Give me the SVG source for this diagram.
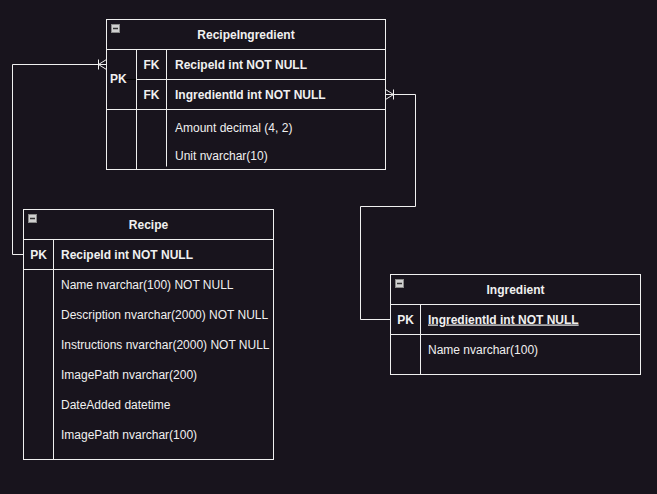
<svg xmlns="http://www.w3.org/2000/svg" width="657" height="494" viewBox="0 0 657 494">
<style>
  .box { fill: #18141d; stroke: #f0f0f0; stroke-width: 1; }
  .ln { stroke: #f0f0f0; stroke-width: 1; fill: none; }
  .t { font-family: "Liberation Sans", Arial, sans-serif; font-size: 12px; fill: #f0f0f0; }
  .b { font-weight: bold; }
  .c { text-anchor: middle; }
  .icon { fill: #d0d0d0; stroke: #8a8a8a; stroke-width: 1; }
  .minus { stroke: #333; stroke-width: 1.5; }
</style>
<defs>
  <g id="collapse">
    <rect class="icon" x="0.5" y="0.5" width="8" height="8"/>
    <line class="minus" x1="2" y1="4.5" x2="7" y2="4.5"/>
  </g>
</defs>
<rect x="0" y="0" width="657" height="494" fill="#18141d"/>

<g id="connectors">
  <polyline class="ln" points="23.5,254.5 12.5,254.5 12.5,64.5 106.5,64.5"/>
  <g class="ln">
    <line x1="98.5" y1="59.5" x2="98.5" y2="69.5"/>
    <line x1="98.5" y1="64.5" x2="106.5" y2="59.5"/>
    <line x1="98.5" y1="64.5" x2="106.5" y2="69.5"/>
  </g>
  <polyline class="ln" points="385.5,94.5 415.5,94.5 415.5,206.5 360.5,206.5 360.5,319.5 390.5,319.5"/>
  <g class="ln">
    <line x1="393.5" y1="89.5" x2="393.5" y2="99.5"/>
    <line x1="393.5" y1="94.5" x2="385.5" y2="89.5"/>
    <line x1="393.5" y1="94.5" x2="385.5" y2="99.5"/>
  </g>
</g>

<g id="RecipeIngredient">
  <rect class="box" x="106.5" y="19.5" width="279" height="150"/>
  <line class="ln" x1="106.5" y1="49.5" x2="385.5" y2="49.5"/>
  <line class="ln" x1="136.5" y1="79.5" x2="385.5" y2="79.5"/>
  <line x1="118" y1="79.5" x2="136.5" y2="79.5" stroke="#000" stroke-width="1"/>
  <line class="ln" x1="106.5" y1="109.5" x2="385.5" y2="109.5"/>
  <line class="ln" x1="136.5" y1="49.5" x2="136.5" y2="169.5"/>
  <line class="ln" x1="166.5" y1="49.5" x2="166.5" y2="166.5"/>
  <use href="#collapse" x="111" y="24"/>
  <text class="t b c" x="246" y="38.5">RecipeIngredient</text>
  <text class="t b" x="110" y="83">PK</text>
  <text class="t b c" x="151.5" y="68.5">FK</text>
  <text class="t b c" x="151.5" y="98.5">FK</text>
  <text class="t b" x="175" y="68.5">RecipeId int NOT NULL</text>
  <text class="t b" x="175" y="98.5">IngredientId int NOT NULL</text>
  <text class="t" x="175" y="131.5">Amount decimal (4, 2)</text>
  <text class="t" x="175" y="159.5">Unit nvarchar(10)</text>
</g>

<g id="Recipe">
  <rect class="box" x="23.5" y="209.5" width="250" height="250"/>
  <line class="ln" x1="23.5" y1="239.5" x2="273.5" y2="239.5"/>
  <line class="ln" x1="23.5" y1="269.5" x2="273.5" y2="269.5"/>
  <line class="ln" x1="53.5" y1="239.5" x2="53.5" y2="459.5"/>
  <use href="#collapse" x="28" y="214"/>
  <text class="t b c" x="148.5" y="228.5">Recipe</text>
  <text class="t b c" x="38.5" y="258.5">PK</text>
  <text class="t b" x="61" y="258.5">RecipeId int NOT NULL</text>
  <text class="t" x="61" y="288.5">Name nvarchar(100) NOT NULL</text>
  <text class="t" x="61" y="318.5">Description nvarchar(2000) NOT NULL</text>
  <text class="t" x="61" y="348.5">Instructions nvarchar(2000) NOT NULL</text>
  <text class="t" x="61" y="378.5">ImagePath nvarchar(200)</text>
  <text class="t" x="61" y="408.5">DateAdded datetime</text>
  <text class="t" x="61" y="438.5">ImagePath nvarchar(100)</text>
</g>

<g id="Ingredient">
  <rect class="box" x="390.5" y="274.5" width="250" height="100"/>
  <line class="ln" x1="390.5" y1="304.5" x2="640.5" y2="304.5"/>
  <line class="ln" x1="390.5" y1="334.5" x2="640.5" y2="334.5"/>
  <line class="ln" x1="420.5" y1="304.5" x2="420.5" y2="374.5"/>
  <use href="#collapse" x="395" y="279"/>
  <text class="t b c" x="515.5" y="293.5">Ingredient</text>
  <text class="t b c" x="405.5" y="323.5">PK</text>
  <text class="t b" x="428" y="323.5" text-decoration="underline">IngredientId int NOT NULL</text>
  <text class="t" x="428" y="353.5">Name nvarchar(100)</text>
</g>
</svg>
